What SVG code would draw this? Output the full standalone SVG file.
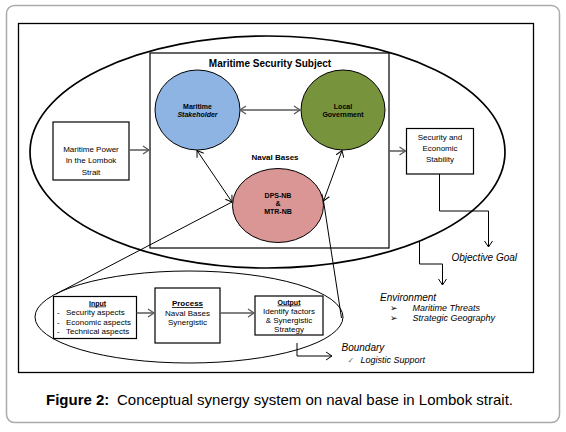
<svg xmlns="http://www.w3.org/2000/svg" width="566" height="432" viewBox="0 0 566 432">
<style>
text{font-family:"Liberation Sans",Arial,sans-serif;fill:#000}
.b{font-weight:bold}
.i{font-style:italic}
.c{text-anchor:middle}
.box{fill:#fff;stroke:#000;stroke-width:1.2}
.ln{fill:none;stroke:#000;stroke-width:1}
.gr{fill:none;stroke:#595959;stroke-width:1.5}
.u{text-decoration:underline}
.sym{font-family:"DejaVu Sans",sans-serif}
</style>
<defs>
<marker id="ab" markerUnits="userSpaceOnUse" markerWidth="12" markerHeight="12" refX="7" refY="6" orient="auto-start-reverse">
<path d="M1,2 L7,6 L1,10" fill="none" stroke="#000" stroke-width="1"/>
</marker>
<marker id="ag" markerUnits="userSpaceOnUse" markerWidth="12" markerHeight="12" refX="7" refY="6" orient="auto-start-reverse">
<path d="M1,2 L7,6 L1,10" fill="none" stroke="#595959" stroke-width="1.3"/>
</marker>
</defs>
<rect x="6.5" y="5.5" width="553" height="417" rx="8" fill="#fff" stroke="#aaa" stroke-width="1.5"/>
<rect x="18.5" y="23.5" width="515" height="349" fill="none" stroke="#000" stroke-width="1.3"/>
<g id="system-ellipse"><ellipse cx="267.5" cy="152" rx="237.5" ry="116" fill="none" stroke="#000" stroke-width="1.7"/></g>
<g id="subject"><rect class="box" x="150" y="53" width="239" height="195"/>
<text class="b c" x="270" y="67" font-size="10">Maritime Security Subject</text>
<text class="b c" x="275" y="160" font-size="8">Naval Bases</text></g>
<g id="stakeholder"><ellipse cx="197.5" cy="110" rx="42.5" ry="40" fill="#8EB4E3" stroke="#000" stroke-width="1"/>
<text class="b c" x="197.5" y="108.5" font-size="7">Maritime</text>
<text class="b i c" x="197.5" y="117" font-size="7">Stakeholder</text></g>
<g id="government"><ellipse cx="343" cy="110" rx="42" ry="40" fill="#77933C" stroke="#000" stroke-width="1"/>
<text class="b c" x="343" y="108.5" font-size="7">Local</text>
<text class="b c" x="343" y="117" font-size="7">Government</text></g>
<g id="navalbases"><ellipse cx="278" cy="205.5" rx="45.5" ry="37" fill="#D99694" stroke="#000" stroke-width="1"/>
<text class="b c" x="278" y="197.5" font-size="7">DPS-NB</text>
<text class="b c" x="278" y="205.8" font-size="7">&amp;</text>
<text class="b c" x="278" y="214" font-size="7">MTR-NB</text></g>
<g id="power"><rect class="box" x="53" y="122" width="76" height="58"/>
<text class="c" x="91" y="152" font-size="8">Maritime Power</text>
<text class="c" x="91" y="163" font-size="8">In the Lombok</text>
<text class="c" x="91" y="174.5" font-size="8">Strait</text></g>
<g id="stability"><rect class="box" x="406.5" y="128.5" width="67" height="45.5"/>
<text class="c" x="440" y="139.5" font-size="8">Security and</text>
<text class="c" x="440" y="150.5" font-size="8">Economic</text>
<text class="c" x="440" y="161.5" font-size="8">Stability</text></g>
<g id="process-ellipse"><ellipse cx="189" cy="317" rx="154" ry="46" fill="none" stroke="#000" stroke-width="1"/></g>
<g id="input"><rect class="box" x="53.5" y="296.5" width="83" height="42"/>
<text class="b c u" x="97.5" y="305.5" font-size="7">Input</text>
<text x="57" y="315" font-size="8">-</text><text x="66" y="315" font-size="8">Security aspects</text>
<text x="57" y="324.5" font-size="8">-</text><text x="66" y="324.5" font-size="8">Economic aspects</text>
<text x="57" y="334" font-size="8">-</text><text x="66" y="334" font-size="8">Technical aspects</text></g>
<g id="process"><rect class="box" x="155" y="288" width="65" height="55"/>
<text class="b c u" x="187.5" y="306" font-size="8">Process</text>
<text class="c" x="187.5" y="315.5" font-size="8">Naval Bases</text>
<text class="c" x="187.5" y="324.5" font-size="8">Synergistic</text></g>
<g id="output"><rect class="box" x="255" y="296" width="68" height="39"/>
<text class="b c u" x="289" y="304.5" font-size="7">Output</text>
<text class="c" x="289" y="314" font-size="8">Identify factors</text>
<text class="c" x="289" y="323" font-size="8">&amp; Synergistic</text>
<text class="c" x="289" y="332" font-size="8">Strategy</text></g>
<g id="objective"><text class="i" x="451.5" y="261" font-size="10">Objective Goal</text></g>
<g id="environment"><text class="i" x="380" y="300.5" font-size="10">Environment</text>
<text class="sym" x="390" y="311" font-size="9">➢</text>
<text class="i" x="412.5" y="310.5" font-size="9">Maritime Threats</text>
<text class="sym" x="390" y="321" font-size="9">➢</text>
<text class="i" x="412.5" y="320.5" font-size="9">Strategic Geography</text></g>
<g id="boundary"><text class="i" x="341.5" y="351" font-size="10">Boundary</text>
<text class="sym" x="347.5" y="363" font-size="8" style="fill:#666">✓</text>
<text class="i" x="360.5" y="363" font-size="9">Logistic Support</text></g>
<g id="connectors">
<line class="gr" x1="240" y1="110" x2="300" y2="110" marker-start="url(#ag)" marker-end="url(#ag)"/>
<line class="ln" x1="197" y1="150.5" x2="232" y2="202" marker-start="url(#ab)" marker-end="url(#ab)"/>
<line class="ln" x1="342" y1="150.5" x2="323.5" y2="201" marker-start="url(#ab)" marker-end="url(#ab)"/>
<line class="gr" x1="129" y1="150" x2="149" y2="150" marker-end="url(#ag)"/>
<line class="gr" x1="389" y1="151" x2="405.5" y2="151" marker-end="url(#ag)"/>
<polyline class="ln" points="439.5,174 439.5,211 488.5,211 488.5,247" marker-end="url(#ab)"/>
<polyline class="ln" points="419.5,241 419.5,264 442.5,264 442.5,285" marker-end="url(#ab)"/>
<polyline class="ln" points="297,343 297,356 332,356" marker-end="url(#ab)"/>
<line class="ln" x1="56" y1="294" x2="232" y2="202"/>
<line class="ln" x1="323.5" y1="201" x2="341.5" y2="318"/>
<line class="gr" x1="136.5" y1="313" x2="154" y2="313" marker-end="url(#ag)"/>
<line class="gr" x1="220" y1="313" x2="254" y2="313" marker-end="url(#ag)"/>
</g>
<text x="46" y="405" font-size="15" class="b">Figure 2:</text>
<text x="117" y="405" font-size="15">Conceptual synergy system on naval base in Lombok strait.</text>
</svg>
